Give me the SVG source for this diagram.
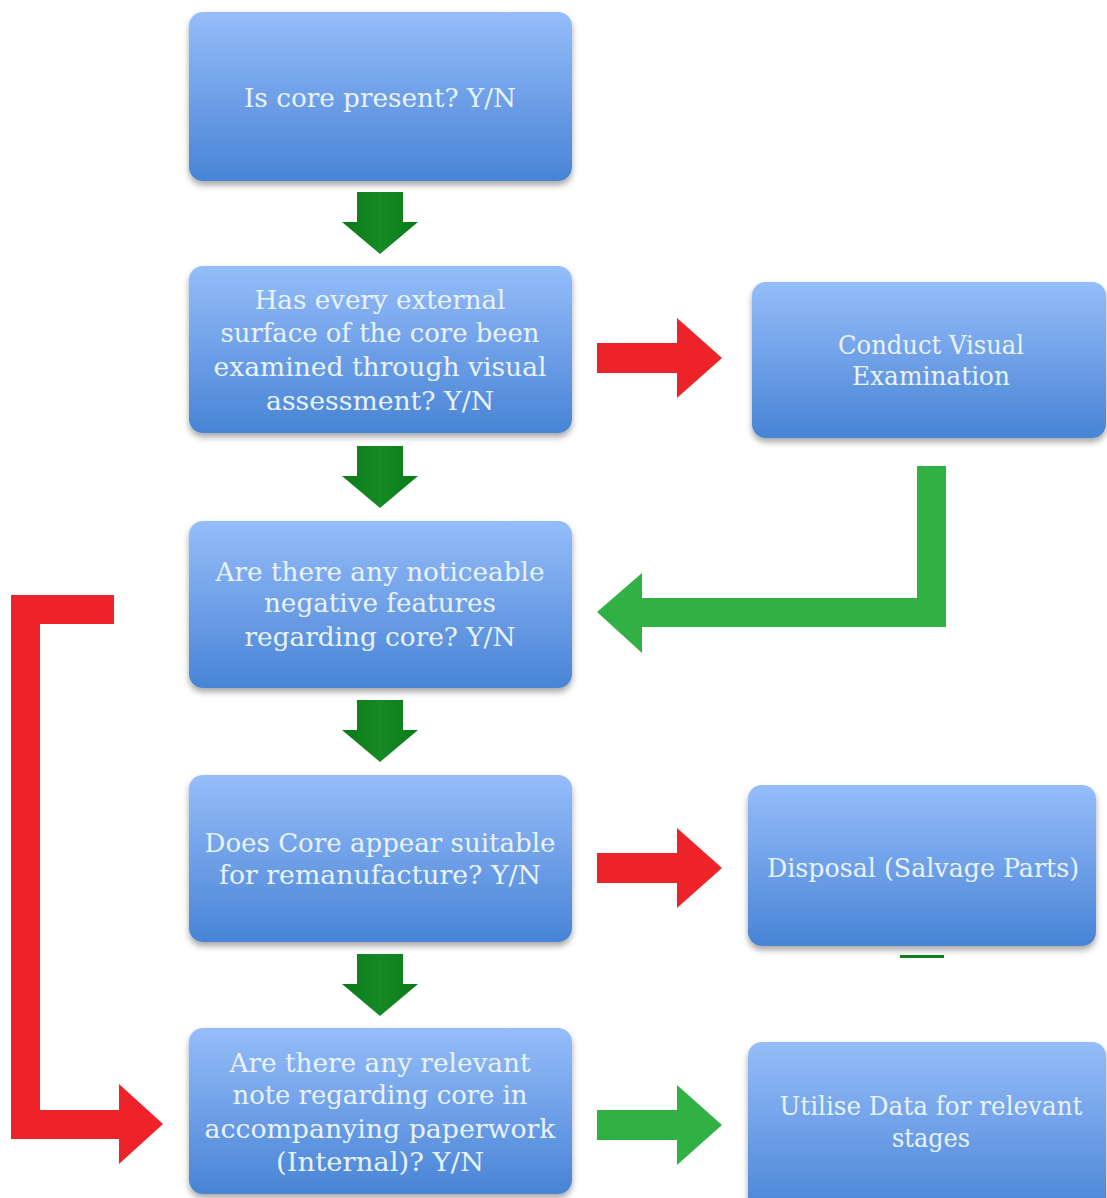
<svg xmlns="http://www.w3.org/2000/svg" width="1107" height="1198" viewBox="0 0 1107 1198">
<defs>
<linearGradient id="boxg" x1="0" y1="0" x2="0" y2="1">
<stop offset="0" stop-color="#95bdf9"/>
<stop offset="0.5" stop-color="#6fa0e8"/>
<stop offset="1" stop-color="#4884d5"/>
</linearGradient>
<linearGradient id="dg" x1="0" y1="0" x2="1" y2="0">
<stop offset="0" stop-color="#0a7a17"/>
<stop offset="0.5" stop-color="#168a24"/>
<stop offset="1" stop-color="#0a7a17"/>
</linearGradient>
<filter id="sh" x="-10%" y="-10%" width="120%" height="130%">
<feDropShadow dx="0" dy="4" stdDeviation="3" flood-color="#000" flood-opacity="0.35"/>
</filter>
</defs>
<style>
.box{fill:url(#boxg);filter:url(#sh);}
.t{font-family:"DejaVu Serif","Liberation Serif",serif;font-size:26px;fill:#e9f3fc;text-anchor:middle;}
.down{fill:url(#dg);}
.red{fill:#ee2229;}
.grn{fill:#31b044;}
</style>
<rect width="1107" height="1198" fill="#ffffff"/>
<g id="connectors">
<path class="down" d="M357,192 H403 V222 H418 L380,254 L342,222 H357 Z"/>
<path class="down" d="M357,446 H403 V476 H418 L380,508 L342,476 H357 Z"/>
<path class="down" d="M357,700 H403 V730 H418 L380,762 L342,730 H357 Z"/>
<path class="down" d="M357,954 H403 V984 H418 L380,1016 L342,984 H357 Z"/>
<path class="red" d="M597,343 H677 V318 L722,358 L677,398 V373 H597 Z"/>
<path class="red" d="M597,853 H677 V828 L722,868 L677,908 V883 H597 Z"/>
<path class="grn" d="M597,1110 H677 V1085 L722,1125 L677,1165 V1140 H597 Z"/>
<path class="grn" d="M917,466 H946 V627 H642 V653 L597,612 L642,573 V598 H917 Z"/>
<path class="red" d="M11,595 H114 V624 H40 V1110 H119 V1084 L163,1124 L119,1164 V1139 H11 Z"/>
<rect x="900" y="955" width="44" height="3" fill="#0d7f1c"/>
</g>
<g id="n1">
<rect class="box" x="189" y="12" width="383" height="169" rx="14"/>
<text class="t" x="380" y="107" textLength="272" lengthAdjust="spacingAndGlyphs">Is core present? Y/N</text>
</g>
<g id="n2">
<rect class="box" x="189" y="266" width="383" height="167" rx="14"/>
<text class="t" x="380" y="309" textLength="251" lengthAdjust="spacingAndGlyphs">Has every external</text>
<text class="t" x="380" y="342" textLength="319" lengthAdjust="spacingAndGlyphs">surface of the core been</text>
<text class="t" x="380" y="376" textLength="333" lengthAdjust="spacingAndGlyphs">examined through visual</text>
<text class="t" x="380" y="410" textLength="228" lengthAdjust="spacingAndGlyphs">assessment? Y/N</text>
</g>
<g id="n3">
<rect class="box" x="189" y="521" width="383" height="167" rx="14"/>
<text class="t" x="380" y="581" textLength="329" lengthAdjust="spacingAndGlyphs">Are there any noticeable</text>
<text class="t" x="380" y="612" textLength="232" lengthAdjust="spacingAndGlyphs">negative features</text>
<text class="t" x="380" y="646" textLength="271" lengthAdjust="spacingAndGlyphs">regarding core? Y/N</text>
</g>
<g id="n4">
<rect class="box" x="189" y="775" width="383" height="167" rx="14"/>
<text class="t" x="380" y="852" textLength="351" lengthAdjust="spacingAndGlyphs">Does Core appear suitable</text>
<text class="t" x="380" y="884" textLength="322" lengthAdjust="spacingAndGlyphs">for remanufacture? Y/N</text>
</g>
<g id="n5">
<rect class="box" x="189" y="1028" width="383" height="166" rx="14"/>
<text class="t" x="380" y="1072" textLength="301" lengthAdjust="spacingAndGlyphs">Are there any relevant</text>
<text class="t" x="380" y="1104" textLength="295" lengthAdjust="spacingAndGlyphs">note regarding core in</text>
<text class="t" x="380" y="1138" textLength="351" lengthAdjust="spacingAndGlyphs">accompanying paperwork</text>
<text class="t" x="380" y="1171" textLength="208" lengthAdjust="spacingAndGlyphs">(Internal)? Y/N</text>
</g>
<g id="r1">
<rect class="box" x="752" y="282" width="354" height="156" rx="14"/>
<text class="t" x="931" y="354" textLength="186" lengthAdjust="spacingAndGlyphs">Conduct Visual</text>
<text class="t" x="931" y="385" textLength="158" lengthAdjust="spacingAndGlyphs">Examination</text>
</g>
<g id="r2">
<rect class="box" x="748" y="785" width="348" height="161" rx="14"/>
<text class="t" x="923" y="877" textLength="312" lengthAdjust="spacingAndGlyphs">Disposal (Salvage Parts)</text>
</g>
<g id="r3">
<rect class="box" x="748" y="1042" width="358" height="175" rx="14"/>
<text class="t" x="931" y="1115" textLength="303" lengthAdjust="spacingAndGlyphs">Utilise Data for relevant</text>
<text class="t" x="931" y="1147" textLength="78" lengthAdjust="spacingAndGlyphs">stages</text>
</g>
</svg>
